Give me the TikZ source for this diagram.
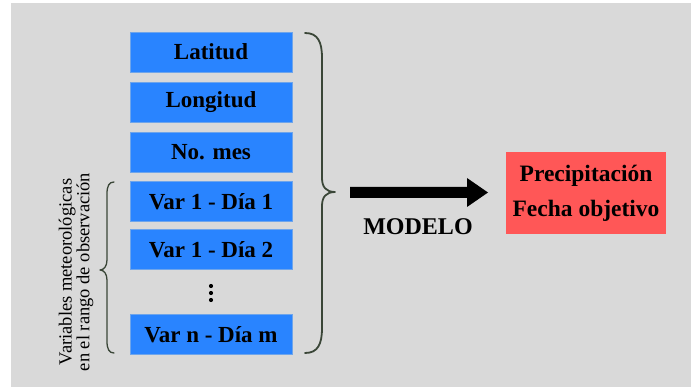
\documentclass[tikz,border=0pt]{standalone}
\usepackage{fontspec}
\setmainfont{Liberation Serif}
\usetikzlibrary{calc}
\definecolor{bg}{RGB}{217,217,217}
\definecolor{boxblue}{RGB}{41,132,255}
\definecolor{boxedge}{RGB}{110,165,235}
\definecolor{boxred}{RGB}{255,87,87}
\definecolor{braceclr}{RGB}{58,70,55}
\tikzset{
  varbox/.style={fill=boxblue, draw=boxedge, line width=0.8pt, minimum width=162pt, minimum height=40pt, inner sep=0pt,
    font=\fontsize{23}{26}\selectfont\bfseries, text=black},
  bracestyle/.style={draw=braceclr, line width=1.8pt, line cap=round, line join=round},
}
\begin{document}
\begin{tikzpicture}[x=1pt,y=-1pt]
\useasboundingbox (0,0) rectangle (691,387);
\fill[bg] (11,3) rectangle (691,387);

\node[varbox] (lat) at (211,52) {Latitud};
\node[varbox] (lon) at (211,102) {Longitud};
\node[varbox] (mes) at (211,152) {No. mes};
\node[varbox] (v11) at (211,201.5) {Var 1 - Día 1};
\node[varbox] (v12) at (211,249.5) {Var 1 - Día 2};
\coordinate (dots) at (211,293);
\fill[black] ($(dots)+(0,-7)$) circle (2.1) (dots) circle (2.1) ($(dots)+(0,7)$) circle (2.1);
\node[varbox] (vnm) at (211,334.5) {Var n - Día m};

% right brace
\coordinate (rbtop) at (305,33);
\coordinate (rbtip) at (335,192);
\coordinate (rbbot) at (305,353);
\draw[bracestyle] (rbtop) .. controls (318,33) and (322,42) .. (322,58) -- (322,178)
  .. controls (322,187) and (326,192) .. (rbtip)
  .. controls (326,192) and (322,197) .. (322,206) -- (322,328)
  .. controls (322,344) and (318,353) .. (rbbot);

% left brace
\coordinate (lbtop) at (114,182);
\coordinate (lbtip) at (100,270);
\coordinate (lbbot) at (114,353);
\draw[bracestyle, line width=1.3pt] (lbtop) .. controls (109,182) and (107,186) .. (107,194) -- (107,260)
  .. controls (107,266) and (104,270) .. (lbtip)
  .. controls (104,270) and (107,274) .. (107,280) -- (107,341)
  .. controls (107,349) and (109,353) .. (lbbot);

\node[rotate=90, align=center, font=\fontsize{18.5}{16.5}\selectfont, inner sep=0pt] (vartxt) at (76,272)
  {Variables meteorológicas\\en el rango de observación};

% arrow
\coordinate (arrs) at (350,192.5);
\coordinate (arre) at (488,192.5);
\fill[black] (350,187) -- (467,187) -- (467,178) -- (arre) -- (467,207) -- (467,198) -- (350,198) -- cycle;
\node[font=\fontsize{24}{28}\selectfont\bfseries, inner sep=0pt] (modelo) at (418,227) {MODELO};

\node[fill=boxred, minimum width=160pt, minimum height=82pt, inner sep=0pt, align=center,
  font=\fontsize{23.5}{35}\selectfont\bfseries] (out) at (586,193) {Precipitación\\Fecha objetivo};
\end{tikzpicture}
\end{document}
